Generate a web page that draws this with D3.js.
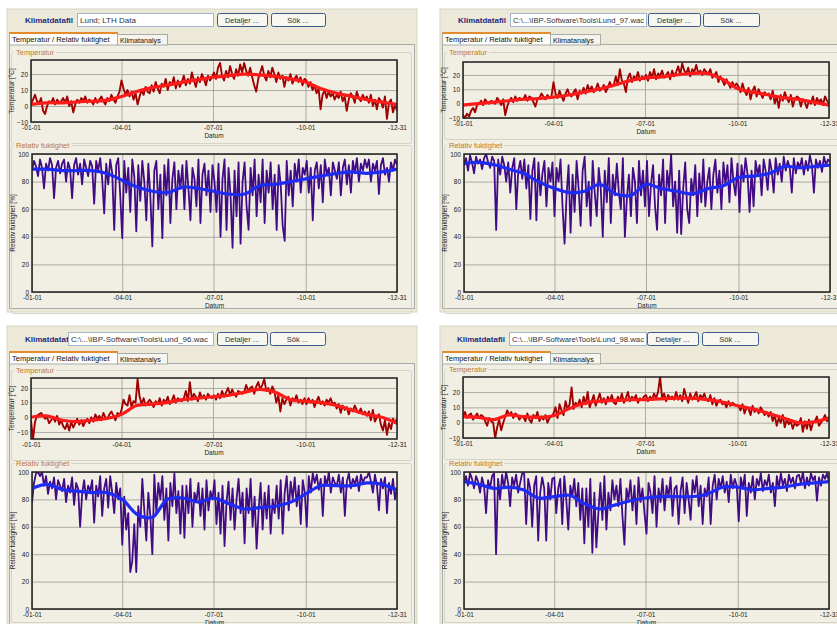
<!DOCTYPE html>
<html><head><meta charset="utf-8">
<script src="https://cdn.jsdelivr.net/npm/d3@7"></script>
<style>
html,body{margin:0;padding:0;background:#fff;}
svg{display:block;font-family:"Liberation Sans",Arial,sans-serif;}
</style></head><body>
<svg id="chart" width="837" height="624"></svg>
<script>
// ---- axis ticks ----
const xTickDays = [0, 90, 181, 273, 364];
const xTickLabels = ["-01-01", "-04-01", "-07-01", "-10-01", "-12-31"];
const tempTicks = [-10, 0, 10, 20];
const rhTicks = [0, 20, 40, 60, 80, 100];
const sampleStep = 2; // daily series are stored every second day
const smoothDays = [0, 15, 31, 45, 59, 74, 90, 105, 120, 135, 151, 166, 181, 196, 212, 227, 243, 258, 273, 288, 304, 319, 334, 349, 364];

// ---- climate files ----
const fileNames = ["Lund; LTH Data", "C:\\...\\IBP-Software\\Tools\\Lund_97.wac", "C:\\...\\IBP-Software\\Tools\\Lund_96.wac", "C:\\...\\IBP-Software\\Tools\\Lund_98.wac"];

// Lund; LTH Data
const tempLund = [1,4,7,3,2,5,-3,-5,0,3,2,5,1,4,2,3, 5,2,6,0,3,-4,1,4,2,5,3,6,2,4, 3,1,5,2,4,6,3,1,5,3,7,4,2,6,9, 16,11,7,10,6,9,4,8,1,6,10,7,12,9,8, 13,9,15,11,8,14,12,17,10,15,13,18,11,16,12,15, 19,13,17,14,21,16,12,18,15,20,17,13,19,16,18, 21,17,24,27,19,16,22,18,25,20,17,23,19,26,21, 27,22,19,24,18,13,9,17,21,25,19,16,22,18,24,20, 15,21,17,19,12,18,16,20,14,17,19,15,18,13,17, 16,12,15,10,13,8,11,-2,7,10,5,9,6,8,4, 7,5,9,3,6,-3,4,8,6,2,9,5,3,7,4, 6,2,7,0,4,-2,5,3,-1,6,-8,2,4,-4,1,-3];
const tempLundSmooth = [1,2,2,2.5,3,3.5,6,9,11.5,13,15,16.5,18,19,20,19.5,18.5,17,15,11,8,6,4,2.5,1];
const rhLund = [88,95,91,84,96,90,75,93,88,97,92,68,90,95,86,93, 96,80,94,89,68,92,97,85,93,78,96,90,84,95, 91,64,95,88,97,82,57,93,78,96,86,45,92,97,70, 39,95,72,90,58,96,84,44,92,66,95,80,52,93,70, 33,88,95,60,85,39,92,70,96,50,82,94,60,88,75,92, 60,95,75,52,90,82,62,96,50,85,93,70,88,58,92, 80,58,93,40,82,96,45,90,70,32,88,55,94,35,80, 94,62,45,90,70,96,55,85,65,96,50,88,72,94,60,85, 45,92,78,48,37,95,70,88,62,93,80,96,72,90,85, 95,72,90,52,88,94,75,92,65,96,85,90,70,94,88, 82,94,70,90,96,78,92,72,95,86,97,80,93,88,96, 90,96,80,93,88,95,71,92,97,85,90,80,94,88,96,92];
const rhLundSmooth = [89,89,88,88,88,86,81,76,73,72,76,75,73,71,71,77,78,80,82,84,86,87,86,87,89];

// Lund_97
const temp97 = [-8,-10,-7,-9,-5,-3,-6,-1,0,2,-1,3,1,0,2,1, 0,4,2,-1,3,-8,-2,2,4,1,5,2,4,3, 3,6,2,5,4,1,-2,3,4,7,5,3,6,4,5, 15,7,4,9,5,2,7,10,6,5,8,10,3,9,7, 11,7,13,9,12,8,10,14,9,10,13,8,11,15,12,13, 19,13,24,16,14,8,18,21,15,19,17,22,16,19,17, 20,16,22,18,24,17,21,19,23,18,20,22,17,23,19, 22,26,20,28,23,21,25,19,24,22,27,21,23,20,24,22, 21,24,18,20,22,15,19,16,13,17,14,11,15,12,14, 12,8,14,9,6,11,3,9,12,5,10,7,4,8,6, 7,3,9,0,5,-3,6,2,8,4,1,6,-2,3,5, 4,-2,3,1,-3,2,0,5,-1,4,1,3,-1,5,2,0];
const temp97Smooth = [-1,0,1,2,3,3.5,4.5,6,8,10,13,16,18,18.5,20,21,21,17,10.5,8,6,4,3,1,-1];
const rh97 = [92,97,88,99,94,86,98,93,96,89,97,100,94,90,98,95, 45,96,85,98,92,80,94,72,90,97,60,88,95,82, 96,75,92,53,88,97,52,94,70,86,95,62,90,80,94, 55,90,80,96,62,35,70,92,43,85,58,95,75,48,88, 98,62,80,48,95,72,55,90,75,40,88,65,97,50,85,70, 93,72,60,97,40,68,85,55,90,80,50,95,70,88,62, 95,55,78,92,62,45,85,70,96,50,88,75,100,62,80, 43,88,42,75,94,60,50,82,70,92,55,86,65,96,62,80, 90,60,85,96,72,88,60,94,78,92,65,97,80,70,93, 58,92,80,97,85,58,88,62,95,85,92,70,96,88,74, 96,88,72,97,85,93,80,98,88,95,90,72,97,86,94, 90,97,85,95,88,99,92,72,96,90,95,87,98,92,96,94];
const rh97Smooth = [93,94,92,89,86,80,75,72,73,78,71,70,78,75,73,71,75,77,83,84,86,91,90,91,92];

// Lund_96
const temp96 = [-2,-15,-3,1,2,3,1,-1,0,-4,-2,0,-3,1,-5,-2, -6,-8,-4,-9,-3,-7,-4,-1,-5,-2,-6,-3,-1,-4, 0,-3,2,-1,1,-2,3,0,-1,2,4,1,-2,3,1, 5,12,9,8,15,7,11,10,26,14,9,13,8,10,12, 10,7,11,9,13,8,12,10,14,9,11,15,10,13,12,11, 13,18,11,24,12,16,14,11,17,13,15,12,16,14,13, 15,12,16,13,18,14,17,20,15,19,16,14,18,17,16, 17,22,18,20,21,16,21,24,19,22,26,18,20,16,21,18, 10,15,4,13,9,12,14,8,13,11,15,10,12,9,13, 9,13,10,12,7,11,14,9,11,8,12,10,13,9,10, 6,9,3,8,5,7,2,6,4,8,5,3,6,2,4, 1,4,-2,5,-3,0,2,-5,-9,-2,-12,-4,-8,-1,-4,-1];
const temp96Smooth = [0,1,-2,-3,-2,-1,2,8,9,10,12,13,14,15,17,19,17,12,11,10,8,5,2,0,-4];
const rh96 = [78,92,99,100,97,100,90,97,84,93,88,96,80,94,90,86, 95,78,90,85,96,76,92,88,60,84,94,80,90,86, 94,63,90,82,97,68,88,95,74,97,85,70,92,80,88, 47,82,58,70,27,35,62,27,75,60,95,72,50,85,68, 40,98,70,92,80,97,65,88,50,92,75,99,70,86,55,90, 52,90,70,95,60,85,78,92,68,88,58,94,72,86,80, 94,62,85,55,90,46,78,93,65,88,58,80,95,70,85, 48,88,70,95,60,82,44,72,92,58,85,66,90,55,80,70, 90,66,94,55,85,97,72,93,80,96,75,90,62,94,85, 60,97,85,99,92,98,87,95,68,97,90,100,85,96,92, 90,98,85,96,68,93,99,88,95,91,97,86,98,92,96, 96,100,93,85,98,90,72,95,88,96,70,92,84,95,80,88];
const rh96Smooth = [88,91,87,86,85,85,80,69,67,80,81,78,81,77,73,74,75,78,84,90,90,90,92,91,87];

// Lund_98
const temp98 = [4,7,3,5,6,2,4,6,3,5,4,1,-2,3,1,0, -10,-3,2,-5,0,4,8,5,7,3,6,5,2,4, 4,1,6,2,0,5,3,7,1,4,2,5,0,3,4, 6,10,3,12,8,5,14,9,12,23,9,13,11,15,10, 17,12,20,10,14,18,11,15,19,13,16,12,17,14,18,13, 12,17,14,19,13,16,20,14,17,15,18,13,16,15,17, 18,14,17,15,19,16,20,30,16,19,14,18,16,17,15, 20,15,18,14,22,17,13,19,15,17,20,14,18,16,19,15, 14,18,12,16,11,14,15,12,13,10,14,11,13,12,11, 11,8,12,6,10,9,5,11,7,9,6,10,8,5,7, 4,7,1,5,-2,3,0,5,-3,2,-1,1,-4,0,-2, -1,3,-6,1,-4,2,-5,0,1,4,-2,0,2,5,1,3];
const temp98Smooth = [4,3.5,2,5,4,3.5,4.5,9,12.5,14,14.5,15,15,15.5,16,16,15,13.5,11,9,6,3,0,0.5,3];
const rh98 = [92,97,90,99,95,88,97,93,85,96,90,70,94,88,97,99, 40,95,80,98,88,100,92,75,96,90,98,85,92,99, 99,62,95,88,60,90,97,50,85,96,88,50,92,80,95, 96,70,88,95,62,97,80,58,90,82,95,75,92,65,88, 48,88,60,95,41,85,45,70,92,65,97,58,85,72,94,80, 90,75,95,68,47,88,80,94,72,90,62,96,78,88,70, 55,92,85,70,97,60,88,78,95,72,90,82,96,68,88, 90,62,86,96,70,92,80,65,94,85,97,75,90,62,88,82, 96,62,90,98,80,95,88,97,85,93,78,98,88,95,90, 64,96,88,98,68,92,85,97,80,95,90,99,86,94,90, 98,85,92,75,97,88,99,90,95,86,98,92,96,88,97, 98,92,100,88,96,90,99,94,97,79,96,90,98,95,99,93];
const rh98Smooth = [93,91,88,89,87,81,82,83,77,73,76,79,81,82,82,82,84,89,89,87,88,89,91,92,93];

// ---- panel geometry ----
const panels = [
  { file: 0, temp: tempLund, tempS: tempLundSmooth, rh: rhLund, rhS: rhLundSmooth,
    x0: 7, x1: 417, y0: 9, y1: 312, lblX: 25, fld: [77, 213], det: [217, 267], sok: [271, 325], headY: 13, tabY: 32,
    tLblY: 55, tp: { l: 31, r: 397, t: 60, b: 122, dom: [-10, 28.8] },
    hLblY: 148, hp: { l: 32, r: 397, t: 154, b: 292 } },
  { file: 1, temp: temp97, tempS: temp97Smooth, rh: rh97, rhS: rh97Smooth,
    x0: 440, x1: 845, y0: 9, y1: 312, lblX: 458, fld: [510, 646], det: [648, 700], sok: [703, 759], headY: 13, tabY: 32,
    tLblY: 55, tp: { l: 463, r: 829, t: 62, b: 118, dom: [-10, 29] },
    hLblY: 148, hp: { l: 464, r: 830, t: 154, b: 292 } },
  { file: 2, temp: temp96, tempS: temp96Smooth, rh: rh96, rhS: rh96Smooth,
    x0: 7, x1: 417, y0: 326, y1: 640, lblX: 25, fld: [68, 213], det: [217, 267], sok: [270, 325], headY: 332, tabY: 351,
    tLblY: 373, tp: { l: 31, r: 397, t: 378, b: 439, dom: [-14.8, 26.8] },
    hLblY: 466, hp: { l: 32, r: 397, t: 472, b: 609 } },
  { file: 3, temp: temp98, tempS: temp98Smooth, rh: rh98, rhS: rh98Smooth,
    x0: 440, x1: 845, y0: 326, y1: 640, lblX: 457, fld: [509, 646], det: [647, 698], sok: [702, 758], headY: 332, tabY: 351,
    tLblY: 372, tp: { l: 463, r: 829, t: 377, b: 438, dom: [-10, 29.8] },
    hLblY: 466, hp: { l: 464, r: 829, t: 472, b: 609 } }
];

const svg = d3.select("#chart");
const defs = svg.append("defs");
let clipId = 0;

function button(g, x0, x1, y, label) {
  g.append("rect").attr("x", x0 + 0.5).attr("y", y + 0.5).attr("width", x1 - x0).attr("height", 13)
    .attr("rx", 2).attr("fill", "#F7F6EF").attr("stroke", "#3A5A8C").attr("stroke-width", 1);
  g.append("text").attr("x", (x0 + x1) / 2).attr("y", y + 10).attr("text-anchor", "middle")
    .attr("font-size", 7.5).attr("fill", "#333").text(label);
}

function plot(g, p, series, smooth, domain, yTicks, yTitle, dailyColor, smoothColor, dailyWidth) {
  const x = d3.scaleLinear().domain([0, 364]).range([p.l, p.r]);
  const y = d3.scaleLinear().domain(domain).range([p.b, p.t]);
  const id = "clip" + (clipId++);
  defs.append("clipPath").attr("id", id).append("rect")
    .attr("x", p.l).attr("y", p.t).attr("width", p.r - p.l).attr("height", p.b - p.t);

  // gridlines
  g.append("g").attr("transform", `translate(0,${p.b})`)
    .call(d3.axisBottom(x).tickValues(xTickDays).tickSize(-(p.b - p.t)).tickFormat(""))
    .call(a => a.select(".domain").remove())
    .call(a => a.selectAll("line").attr("stroke", "#9A9A92").attr("stroke-width", 0.8));
  g.append("g").attr("transform", `translate(${p.l},0)`)
    .call(d3.axisLeft(y).tickValues(yTicks).tickSize(-(p.r - p.l)).tickFormat(""))
    .call(a => a.select(".domain").remove())
    .call(a => a.selectAll("line").attr("stroke", "#9A9A92").attr("stroke-width", 0.8));

  // daily values and smoothed curve
  const daily = d3.line().x((d, i) => x(i * sampleStep)).y(d => y(d));
  const sm = d3.line().x((d, i) => x(smoothDays[i])).y(d => y(d)).curve(d3.curveCatmullRom.alpha(0.5));
  const lines = g.append("g").attr("clip-path", `url(#${id})`);
  lines.append("path").attr("d", daily(series)).attr("fill", "none")
    .attr("stroke", dailyColor).attr("stroke-width", dailyWidth).attr("stroke-linejoin", "round");
  lines.append("path").attr("d", sm(smooth)).attr("fill", "none")
    .attr("stroke", smoothColor).attr("stroke-width", 3.2).attr("stroke-linecap", "round");

  // frame
  g.append("rect").attr("x", p.l).attr("y", p.t).attr("width", p.r - p.l).attr("height", p.b - p.t)
    .attr("fill", "none").attr("stroke", "#1E1E1E").attr("stroke-width", 1.5);

  // tick labels
  g.append("g").attr("transform", `translate(0,${p.b})`)
    .call(d3.axisBottom(x).tickValues(xTickDays).tickSize(0).tickPadding(3).tickFormat((d, i) => xTickLabels[i]))
    .call(a => a.select(".domain").remove())
    .call(a => a.selectAll("text").attr("font-size", 6.5).attr("fill", "#222").attr("font-family", "Liberation Sans, Arial, sans-serif"));
  g.append("g").attr("transform", `translate(${p.l},0)`)
    .call(d3.axisLeft(y).tickValues(yTicks).tickSize(0).tickPadding(3))
    .call(a => a.select(".domain").remove())
    .call(a => a.selectAll("text").attr("font-size", 6.5).attr("fill", "#222").attr("font-family", "Liberation Sans, Arial, sans-serif"));

  g.append("text").attr("x", (p.l + p.r) / 2).attr("y", p.b + 16).attr("text-anchor", "middle")
    .attr("font-size", 6.5).attr("fill", "#222").text("Datum");
  g.append("text").attr("transform", `translate(${p.l - 17},${(p.t + p.b) / 2}) rotate(-90)`)
    .attr("text-anchor", "middle").attr("font-size", 6.5).attr("fill", "#222").text(yTitle);
}

function groupBox(g, x0, x1, y0, y1, label) {
  g.append("rect").attr("x", x0 + 0.5).attr("y", y0 + 0.5).attr("width", x1 - x0).attr("height", y1 - y0)
    .attr("fill", "none").attr("stroke", "#D6D3C4").attr("stroke-width", 1).attr("rx", 2);
  const t = g.append("text").attr("x", x0 + 5).attr("y", y0 + 3).attr("font-size", 7.5).attr("fill", "#C0782F").text(label);
  const w = t.node().getComputedTextLength();
  g.insert("rect", "text:last-child").attr("x", x0 + 3).attr("y", y0 - 2).attr("width", w + 4).attr("height", 4).attr("fill", "#F1EFE4");
}

panels.forEach(P => {
  const g = svg.append("g");
  // window background
  g.append("rect").attr("x", P.x0).attr("y", P.y0).attr("width", P.x1 - P.x0).attr("height", P.y1 - P.y0)
    .attr("fill", "#ECE9D8").attr("stroke", "#D8D5C6");

  // header row
  g.append("text").attr("x", P.lblX).attr("y", P.headY + 10).attr("font-size", 8).attr("font-weight", "bold")
    .attr("fill", "#1F2A80").text("Klimatdatafil");
  g.append("rect").attr("x", P.fld[0] + 0.5).attr("y", P.headY + 0.5).attr("width", P.fld[1] - P.fld[0]).attr("height", 13)
    .attr("fill", "#FFFFFF").attr("stroke", "#A5B5C8");
  const ft = g.append("text").attr("x", P.fld[0] + 3).attr("y", P.headY + 10).attr("font-size", 8).attr("fill", "#333").text(fileNames[P.file]);
  const room = P.fld[1] - P.fld[0] - 5;
  if (ft.node().getComputedTextLength() > room) ft.attr("textLength", room).attr("lengthAdjust", "spacingAndGlyphs");
  button(g, P.det[0], P.det[1], P.headY, "Detaljer ...");
  button(g, P.sok[0], P.sok[1], P.headY, "Sök ...");

  // tab page
  g.append("rect").attr("x", P.x0 + 2.5).attr("y", P.tabY + 12.5).attr("width", P.x1 - P.x0 - 5).attr("height", P.y1 - P.tabY - 16)
    .attr("fill", "#F1EFE4").attr("stroke", "#A8ACA8");
  // tabs
  g.append("rect").attr("x", P.x0 + 2.5).attr("y", P.tabY + 0.5).attr("width", 108).attr("height", 12.5)
    .attr("fill", "#FCFCFA").attr("stroke", "#A8ACA8");
  g.append("rect").attr("x", P.x0 + 2.5).attr("y", P.tabY).attr("width", 108).attr("height", 2).attr("fill", "#E68B2C");
  g.append("text").attr("x", P.x0 + 5).attr("y", P.tabY + 10).attr("font-size", 7.5).attr("fill", "#111")
    .text("Temperatur / Relativ fuktighet");
  g.append("rect").attr("x", P.x0 + 110.5).attr("y", P.tabY + 2.5).attr("width", 50).attr("height", 10.5)
    .attr("fill", "#F5F4EE").attr("stroke", "#A8ACA8");
  g.append("text").attr("x", P.x0 + 113).attr("y", P.tabY + 10.5).attr("font-size", 7.2).attr("fill", "#111").text("Klimatanalys");

  // group frames
  groupBox(g, P.x0 + 4, P.x1 - 6, P.tLblY - 3, P.tp.b + 21, "Temperatur");
  groupBox(g, P.x0 + 4, P.x1 - 6, P.hLblY - 3, Math.min(P.hp.b + 21, 622), "Relativ fuktighet");

  plot(g, P.tp, P.temp, P.tempS, P.tp.dom, tempTicks, "Temperatur [°C]", "#A00000", "#FF1A1A", 1.9);
  plot(g, P.hp, P.rh, P.rhS, [0, 100], rhTicks, "Relativ fuktighet [%]", "#420A85", "#1E2BF5", 1.8);
});
</script>
</body></html>
